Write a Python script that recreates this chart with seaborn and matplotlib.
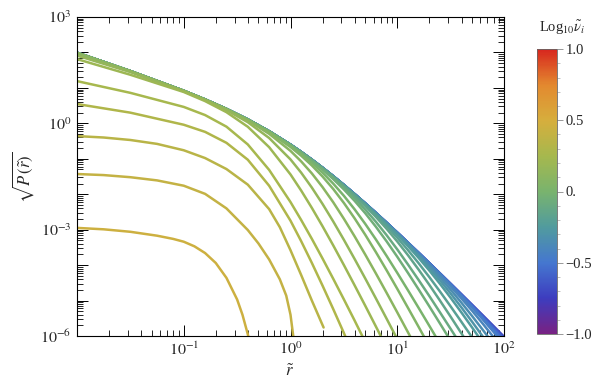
import numpy as np
import pandas as pd
import matplotlib
matplotlib.use("Agg")
import matplotlib.pyplot as plt
import seaborn as sns
from matplotlib.colors import LinearSegmentedColormap, Normalize
from matplotlib.cm import ScalarMappable
from matplotlib.ticker import LogLocator, NullFormatter, FixedLocator

# colour value (log10 of nu_i) of each curve, lowest curve first
log_nu = [0.45, 0.40, 0.35, 0.30, 0.25, 0.20, 0.15, 0.10, 0.05, 0.00,
          -0.05, -0.10, -0.15, -0.20, -0.25, -0.30, -0.35, -0.40, -0.45, -0.50,
          -0.55, -0.60, -0.65, -0.70, -0.75]

# three lowest curves, sampled more finely close to their cut-off (log10 r, log10 sqrt(P))
inner_log_r = [
    [-2.0, -1.75, -1.5, -1.25, -1.1, -1.0, -0.9, -0.8, -0.7, -0.6, -0.5, -0.45, -0.4, -0.37],
    [-2.0, -1.75, -1.5, -1.25, -1.0, -0.8, -0.6, -0.4, -0.3, -0.2, -0.1, -0.04, 0.0, 0.03],
    [-2.0, -1.75, -1.5, -1.25, -1.0, -0.8, -0.6, -0.4, -0.2, -0.1, 0.0, 0.1, 0.2, 0.31],
]
inner_log_sqrt_p = [
    [-2.95, -2.99, -3.06, -3.17, -3.26, -3.34, -3.47, -3.66, -3.94, -4.36, -4.97, -5.40, -5.95, -6.35],
    [-1.43, -1.46, -1.52, -1.61, -1.76, -1.99, -2.40, -3.01, -3.39, -3.84, -4.40, -4.86, -5.40, -6.10],
    [-0.36, -0.40, -0.47, -0.58, -0.76, -0.98, -1.29, -1.73, -2.42, -2.93, -3.58, -4.28, -5.00, -5.76],
]

# the other curves share one log10 r grid; each list stops once the curve leaves the frame
grid_log_r = [-2.0, -1.5, -1.0, -0.8, -0.6, -0.4, -0.2, 0.0, 0.1, 0.2, 0.3, 0.4, 0.5, 0.6,
              0.7, 0.8, 0.9, 1.0, 1.1, 1.2, 1.3, 1.4, 1.5, 1.6, 1.7, 1.8, 1.9, 2.0]
head = [1.991, 1.473, 0.917, 0.672, 0.405, 0.109, -0.225]
outer_log_sqrt_p = [
    [0.545, 0.301, -0.040, -0.241, -0.550, -1.027, -1.761, -2.747, -3.325, -3.938, -4.578, -5.238,
     -5.916, -6.625],
    [1.191, 0.860, 0.463, 0.233, -0.094, -0.596, -1.314, -2.221, -2.728, -3.259, -3.813, -4.384,
     -4.967, -5.560, -6.168],
    [1.812, 1.370, 0.884, 0.627, 0.315, -0.097, -0.673, -1.442, -1.897, -2.386, -2.903, -3.442,
     -3.998, -4.567, -5.145, -5.732, -6.326],
    [1.912, 1.446, 0.904, 0.656, 0.373, 0.032, -0.414, -1.018, -1.392, -1.813, -2.274, -2.767,
     -3.286, -3.824, -4.376, -4.939, -5.510, -6.087],
    [1.985, 1.473, 0.916, 0.668, 0.395, 0.082, -0.296, -0.777, -1.074, -1.413, -1.799, -2.226,
     -2.692, -3.186, -3.702, -4.235, -4.780, -5.333, -5.893, -6.457],
    [1.991, 1.473, 0.916, 0.671, 0.401, 0.100, -0.250, -0.668, -0.913, -1.188, -1.500, -1.851,
     -2.246, -2.678, -3.143, -3.634, -4.144, -4.668, -5.203, -5.742, -6.288],
    [1.991, 1.473, 0.917, 0.672, 0.403, 0.104, -0.238, -0.637, -0.864, -1.114, -1.391, -1.700,
     -2.044, -2.424, -2.836, -3.277, -3.739, -4.218, -4.708, -5.206, -5.710, -6.219],
    [1.991, 1.473, 0.917, 0.672, 0.404, 0.107, -0.229, -0.614, -0.827, -1.057, -1.304, -1.572,
     -1.864, -2.185, -2.535, -2.918, -3.328, -3.764, -4.218, -4.685, -5.161, -5.646, -6.134],
    [1.991, 1.473, 0.917, 0.672, 0.405, 0.108, -0.227, -0.609, -0.819, -1.043, -1.281, -1.537,
     -1.812, -2.108, -2.429, -2.778, -3.154, -3.556, -3.980, -4.419, -4.870, -5.332, -5.798, -6.269],
    [1.991, 1.473, 0.917, 0.672, 0.405, 0.109, -0.225, -0.604, -0.812, -1.032, -1.264, -1.509,
     -1.767, -2.041, -2.331, -2.641, -2.974, -3.333, -3.718, -4.126, -4.555, -5.000, -5.455,
     -5.920, -6.388],
    head + [-0.603, -0.810, -1.028, -1.258, -1.500, -1.754, -2.019, -2.296, -2.588, -2.897, -3.225,
            -3.575, -3.945, -4.336, -4.744, -5.165, -5.596, -6.032],
    head + [-0.602, -0.809, -1.026, -1.255, -1.494, -1.744, -2.004, -2.273, -2.552, -2.841, -3.143,
            -3.461, -3.795, -4.150, -4.526, -4.921, -5.332, -5.755, -6.188],
    head + [-0.602, -0.808, -1.025, -1.254, -1.493, -1.742, -2.000, -2.266, -2.542, -2.825, -3.119,
            -3.423, -3.741, -4.075, -4.428, -4.800, -5.190, -5.593, -6.010],
    head + [-0.602, -0.808, -1.025, -1.253, -1.492, -1.741, -1.998, -2.262, -2.535, -2.815, -3.102,
            -3.398, -3.701, -4.017, -4.348, -4.693, -5.056, -5.432, -5.822, -6.221],
    head + [-0.602, -0.808, -1.025, -1.253, -1.491, -1.739, -1.996, -2.260, -2.531, -2.807, -3.090,
            -3.379, -3.672, -3.973, -4.282, -4.602, -4.936, -5.283, -5.648, -6.026],
    head + [-0.602, -0.808, -1.025, -1.253, -1.491, -1.739, -1.995, -2.258, -2.529, -2.805, -3.086,
            -3.371, -3.660, -3.954, -4.253, -4.558, -4.870, -5.192, -5.528, -5.877, -6.243],
    head + [-0.602, -0.808, -1.025, -1.253, -1.491, -1.739, -1.995, -2.258, -2.528, -2.804, -3.085,
            -3.370, -3.657, -3.949, -4.246, -4.546, -4.853, -5.165, -5.489, -5.825, -6.175],
    head + [-0.602, -0.808, -1.025, -1.253, -1.491, -1.739, -1.995, -2.258, -2.528, -2.803, -3.084,
            -3.369, -3.656, -3.946, -4.241, -4.539, -4.841, -5.148, -5.462, -5.786, -6.123],
    head + [-0.602, -0.808, -1.025, -1.253, -1.491, -1.739, -1.995, -2.258, -2.528, -2.803, -3.083,
            -3.368, -3.655, -3.945, -4.238, -4.534, -4.834, -5.136, -5.445, -5.759, -6.084],
    head + [-0.602, -0.808, -1.025, -1.253, -1.491, -1.739, -1.995, -2.258, -2.528, -2.803, -3.083,
            -3.367, -3.654, -3.944, -4.237, -4.531, -4.829, -5.129, -5.433, -5.742, -6.057],
    head + [-0.602, -0.808, -1.025, -1.253, -1.491, -1.739, -1.995, -2.258, -2.528, -2.803, -3.083,
            -3.367, -3.653, -3.943, -4.236, -4.530, -4.826, -5.124, -5.426, -5.730, -6.040],
    head + [-0.602, -0.808, -1.025, -1.253, -1.491, -1.739, -1.995, -2.258, -2.528, -2.803, -3.083,
            -3.367, -3.653, -3.942, -4.234, -4.528, -4.824, -5.120, -5.418, -5.718, -6.021],
]

x_tick_exp = [-2, -1, 0, 1, 2]
x_tick_labels = ['', r'$10^{-1}$', r'$10^{0}$', r'$10^{1}$', r'$10^{2}$']
y_tick_exp = [-6, -5, -4, -3, -2, -1, 0, 1, 2, 3]
y_tick_labels = [r'$10^{-6}$', '', '', r'$10^{-3}$', '', '', r'$10^{0}$', '', '', r'$10^{3}$']
cbar_ticks = [-1.0, -0.5, 0.0, 0.5, 1.0]
cbar_tick_labels = ['\u22121.0', '\u22120.5', '0.', '0.5', '1.0']

# long table, one row per sampled point
rows = []
for i, (lr, lp) in enumerate(zip(inner_log_r, inner_log_sqrt_p)):
    for a, b in zip(lr, lp):
        rows.append((i, log_nu[i], 10.0 ** a, 10.0 ** b))
for j, lp in enumerate(outer_log_sqrt_p):
    i = j + len(inner_log_r)
    for a, b in zip(grid_log_r, lp):
        rows.append((i, log_nu[i], 10.0 ** a, 10.0 ** b))
df = pd.DataFrame(rows, columns=['curve', 'log_nu', 'r', 'sqrt_p'])

sns.set_theme(style='ticks')
plt.rcParams['font.family'] = ['Liberation Serif', 'DejaVu Serif']
plt.rcParams['mathtext.fontset'] = 'stix'
plt.rcParams['axes.unicode_minus'] = True

# rainbow-like gradient, purple -> red
rainbow = LinearSegmentedColormap.from_list('rainbow_m', [
    '#782283', '#3D3DBF', '#4577CF', '#519B9E', '#79B36E',
    '#A6B84E', '#D6AE3D', '#E3892F', '#D7261E'])
norm = Normalize(-1.0, 1.0)

fig = plt.figure(figsize=(5.92, 3.85), dpi=100)
ax = fig.add_axes([77 / 592, 1 - 336 / 385, 427 / 592, 319 / 385])

sns.lineplot(data=df, x='r', y='sqrt_p', hue='log_nu', units='curve', estimator=None,
             sort=False, palette=rainbow, hue_norm=norm, legend=False, linewidth=1.8,
             solid_joinstyle='round', ax=ax)

ax.set_xscale('log')
ax.set_yscale('log')
ax.set_xlim(1e-2, 1e2)
ax.set_ylim(1e-6, 1e3)

ax.set_xticks([10.0 ** e for e in x_tick_exp])
ax.set_xticklabels(x_tick_labels)
ax.set_yticks([10.0 ** e for e in y_tick_exp])
ax.set_yticklabels(y_tick_labels)
ax.xaxis.set_minor_locator(LogLocator(base=10, subs=np.arange(2, 10), numticks=50))
ax.yaxis.set_minor_locator(LogLocator(base=10, subs=np.arange(2, 10), numticks=50))
ax.xaxis.set_minor_formatter(NullFormatter())
ax.yaxis.set_minor_formatter(NullFormatter())
ax.tick_params(which='both', direction='in', top=True, right=True, color='black')
ax.tick_params(which='major', length=8, width=0.7, labelsize=11.5, pad=4)
ax.tick_params(which='minor', length=4, width=0.6)
for s in ax.spines.values():
    s.set_color('black')
    s.set_linewidth(0.8)

ax.set_xlabel('')
ax.set_ylabel('')
fig.text(290 / 592, 1 - 372 / 385, r'$\tilde{r}$', ha='center', va='center', fontsize=12)
fig.text(23 / 592, 1 - 177 / 385, r'$\sqrt{P\,(\tilde{r})}$', rotation=90,
         ha='center', va='center', fontsize=12)

# colour bar
cax = fig.add_axes([537 / 592, 1 - 334 / 385, 20 / 592, 285 / 385])
cb = fig.colorbar(ScalarMappable(norm=norm, cmap=rainbow), cax=cax)
cb.set_ticks(cbar_ticks)
cb.set_ticklabels(cbar_tick_labels)
cax.yaxis.set_minor_locator(FixedLocator(np.linspace(-1, 1, 21)))
cax.tick_params(which='major', direction='out', length=4, width=0.6, color='#888888',
                labelsize=10.5, pad=2)
cax.tick_params(which='minor', direction='out', length=2.5, width=0.5, color='#aaaaaa')
cb.outline.set_edgecolor('#666666')
cb.outline.set_linewidth(0.6)
fig.text(562 / 592, 1 - 28 / 385, r'Log$_{10}\tilde{\nu}_i$', ha='center', va='center',
         fontsize=10.5)

fig.savefig('out.png', dpi=100, facecolor='white')
